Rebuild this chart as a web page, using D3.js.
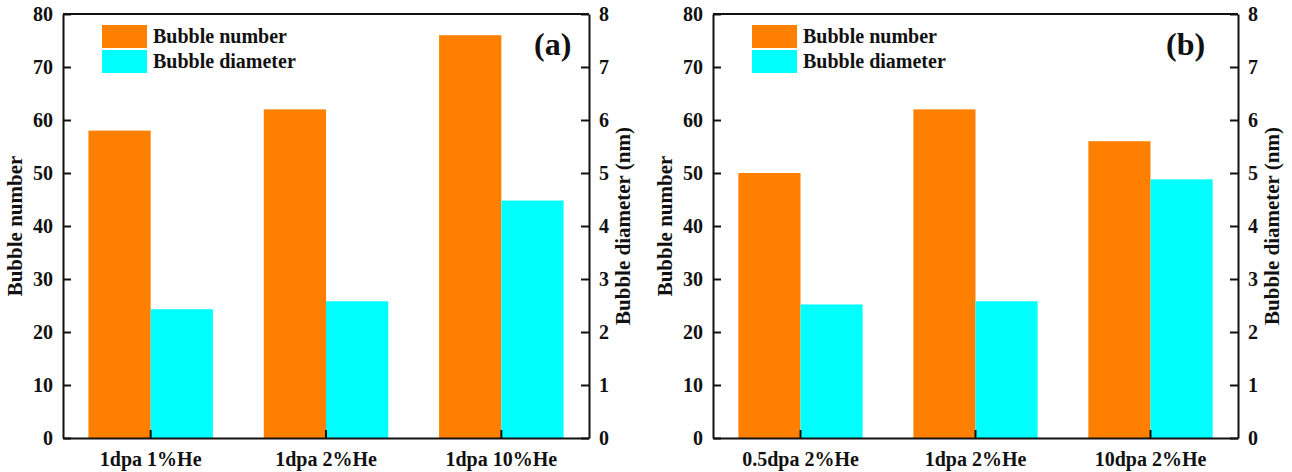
<html>
<head>
    <style>
        body { margin: 0; background: #fff; }
        text { font-family: "Liberation Serif", "Times New Roman", serif; font-weight: bold; fill: #111; }
    </style>
</head>
<body>
    <script src="https://d3js.org/d3.v7.min.js"></script>
    <script>
        // panel (a)
        var catsA = ["1dpa 1%He", "1dpa 2%He", "1dpa 10%He"];
        var numberA = [58, 62, 76];
        var diameterA = [2.43, 2.58, 4.48];
        // panel (b)
        var catsB = ["0.5dpa 2%He", "1dpa 2%He", "10dpa 2%He"];
        var numberB = [50, 62, 56];
        var diameterB = [2.52, 2.58, 4.88];

        var leftTicks = [0, 10, 20, 30, 40, 50, 60, 70, 80];
        var rightTicks = [0, 1, 2, 3, 4, 5, 6, 7, 8];
        var legendLabels = ["Bubble number", "Bubble diameter"];

        var width = 1292, height = 472;
        var orange = "#ff8000", cyan = "#00ffff";
        var serif = "'Liberation Serif', 'Times New Roman', serif";

        var svg = d3.select("body").append("svg")
            .attr("width", width)
            .attr("height", height);

        function drawPanel(x0, x1, cats, nums, dias, tag, tagX, titleL, titleR) {
            var top = 14, bottom = 438;
            var g = svg.append("g");

            var x = d3.scaleBand().domain(cats).range([x0, x1]).padding(0);
            var yL = d3.scaleLinear().domain([0, 80]).range([bottom, top]);
            var yR = d3.scaleLinear().domain([0, 8]).range([bottom, top]);
            var bw = x.bandwidth() * 0.355;

            // bars
            g.selectAll(".num").data(cats).enter().append("rect")
                .attr("x", function (d) { return x(d) + x.bandwidth() / 2 - bw; })
                .attr("y", function (d, i) { return yL(nums[i]); })
                .attr("width", bw)
                .attr("height", function (d, i) { return bottom - yL(nums[i]); })
                .attr("fill", orange);
            g.selectAll(".dia").data(cats).enter().append("rect")
                .attr("x", function (d) { return x(d) + x.bandwidth() / 2; })
                .attr("y", function (d, i) { return yR(dias[i]); })
                .attr("width", bw)
                .attr("height", function (d, i) { return bottom - yR(dias[i]); })
                .attr("fill", cyan);

            // axes (ticks inside)
            var axL = g.append("g").attr("transform", "translate(" + x0 + ",0)")
                .call(d3.axisLeft(yL).tickValues(leftTicks).tickSizeInner(-8).tickSizeOuter(0).tickPadding(10));
            var axR = g.append("g").attr("transform", "translate(" + x1 + ",0)")
                .call(d3.axisRight(yR).tickValues(rightTicks).tickSizeInner(-8).tickSizeOuter(0).tickPadding(10));
            var axB = g.append("g").attr("transform", "translate(0," + bottom + ")")
                .call(d3.axisBottom(x).tickSizeInner(-8).tickSizeOuter(0).tickPadding(11));
            [axL, axR, axB].forEach(function (a) {
                a.attr("font-family", serif);
                a.selectAll("path, line").attr("stroke", "#111").attr("stroke-width", 2);
                a.selectAll("text").style("font-size", "20px").style("font-family", serif).style("font-weight", "bold").attr("fill", "#111");
            });
            axB.selectAll("text").style("font-size", "20px").attr("dy", "0.85em");
            g.append("line").attr("x1", x0).attr("x2", x1).attr("y1", top).attr("y2", top)
                .attr("stroke", "#111").attr("stroke-width", 2);

            // axis titles
            g.append("text")
                .attr("transform", "translate(" + (x0 - 41) + "," + ((top + bottom) / 2) + ") rotate(-90)")
                .attr("text-anchor", "middle").style("font-size", "21px").text(titleL);
            g.append("text")
                .attr("transform", "translate(" + (x1 + 41) + "," + ((top + bottom) / 2) + ") rotate(-90)")
                .attr("text-anchor", "middle").style("font-size", "21px").text(titleR);

            // legend
            var lg = g.append("g").attr("transform", "translate(" + (x0 + 39) + ",25)");
            lg.selectAll("rect").data(legendLabels).enter().append("rect")
                .attr("x", 0).attr("y", function (d, i) { return i * 25; })
                .attr("width", 45).attr("height", 23)
                .attr("fill", function (d, i) { return i ? cyan : orange; });
            lg.selectAll("text").data(legendLabels).enter().append("text")
                .attr("x", 51).attr("y", function (d, i) { return 18 + i * 25; })
                .style("font-size", "20px").text(function (d) { return d; });

            // panel tag
            g.append("text").attr("x", x1 - tagX).attr("y", 55)
                .style("font-size", "32px").text(tag);
        }

        drawPanel(63, 589, catsA, numberA, diameterA, "(a)", 55, "Bubble number", "Bubble diameter (nm)");
        drawPanel(713, 1238, catsB, numberB, diameterB, "(b)", 72, "Bubble number", "Bubble diameter (nm)");
    </script>
</body>
</html>
